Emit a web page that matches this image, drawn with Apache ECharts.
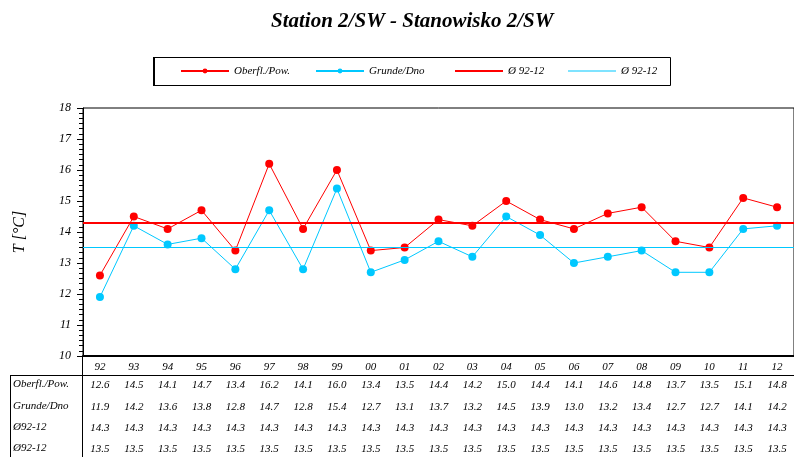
<!DOCTYPE html>
<html>
<head>
<meta charset="utf-8">
<script src="https://cdn.jsdelivr.net/npm/echarts@6/dist/echarts.min.js"></script>
<style>
  html, body { margin: 0; padding: 0; background: #fff; }
  #main { width: 794px; height: 457px; }
</style>
</head>
<body>
<div id="main"></div>
<script>
// dane
var years = ['92','93','94','95','96','97','98','99','00','01','02','03','04','05','06','07','08','09','10','11','12'];
var surface = [12.6, 14.5, 14.1, 14.7, 13.4, 16.2, 14.1, 16.0, 13.4, 13.5, 14.4, 14.2, 15.0, 14.4, 14.1, 14.6, 14.8, 13.7, 13.5, 15.1, 14.8];
var bottom = [11.9, 14.2, 13.6, 13.8, 12.8, 14.7, 12.8, 15.4, 12.7, 13.1, 13.7, 13.2, 14.5, 13.9, 13.0, 13.2, 13.4, 12.7, 12.7, 14.1, 14.2];
var avgSurface = 14.3;
var avgBottom = 13.5;
var rowNames = ['Oberfl./Pow.', 'Grunde/Dno', 'Ø92-12', 'Ø92-12'];

var RED = '#ff0000';
var CYAN = '#00c8ff';
var FONT = 'Liberation Serif';

var myChart = echarts.init(document.getElementById('main'));

function fmt(arr) {
    return arr.map(function (v) { return v.toFixed(1); });
}
function fill(v) {
    return years.map(function () { return v.toFixed(1); });
}

// wiersze tabeli jako osie kategorii
var tableRows = [fmt(surface), fmt(bottom), fill(avgSurface), fill(avgBottom)];
var rowOffsets = [18, 40, 61, 82];
var labelStyle = { color: '#000', fontFamily: FONT, fontStyle: 'italic', fontSize: 11, margin: 6 };

var xAxes = [{
    type: 'category',
    data: years,
    gridIndex: 0,
    position: 'bottom',
    axisLine: { lineStyle: { color: '#000', width: 2 } },
    axisTick: { show: false },
    axisLabel: labelStyle
}];
tableRows.forEach(function (row, i) {
    xAxes.push({
        type: 'category',
        data: row,
        gridIndex: 0,
        position: 'bottom',
        offset: rowOffsets[i],
        axisLine: { show: false },
        axisTick: { show: false },
        axisLabel: labelStyle
    });
});

// legenda - cztery osobne, zeby ustawic pozycje jak w oryginale
var legendPos = [180, 315, 455, 568];
var legendNames = ['Oberfl./Pow.', 'Grunde/Dno', 'Ø 92-12', 'Ø 92-12 '];
var legendIcons = [null, null, 'rect', 'rect'];
var legendHeights = [6, 6, 2, 1];
var legends = legendNames.map(function (n, i) {
    var l = {
        data: [n],
        left: legendPos[i],
        top: 65,
        itemWidth: 48,
        itemHeight: legendHeights[i],
        itemGap: 0,
        padding: 0,
        selectedMode: false,
        textStyle: { color: '#000', fontFamily: FONT, fontStyle: 'italic', fontSize: 11, lineHeight: 12 }
    };
    if (legendIcons[i]) l.icon = legendIcons[i];
    return l;
});

var graphics = [
    { type: 'rect', shape: { x: 153.5, y: 57.5, width: 517, height: 28 }, style: { fill: 'none', stroke: '#000', lineWidth: 1 } },
    { type: 'line', shape: { x1: 154, y1: 57, x2: 154, y2: 86 }, style: { stroke: '#000', lineWidth: 2 } },
    { type: 'line', shape: { x1: 10, y1: 375.5, x2: 794, y2: 375.5 }, style: { stroke: '#000', lineWidth: 1 } },
    { type: 'line', shape: { x1: 10.5, y1: 375, x2: 10.5, y2: 457 }, style: { stroke: '#000', lineWidth: 1 } },
    { type: 'line', shape: { x1: 82.5, y1: 356, x2: 82.5, y2: 457 }, style: { stroke: '#000', lineWidth: 1 } }
];
var rowY = [386, 408, 429, 450];
rowNames.forEach(function (n, i) {
    graphics.push({
        type: 'text', left: 13, top: rowY[i] - 7,
        style: { text: n, fill: '#000', font: 'italic 11px "' + FONT + '"' }
    });
});

myChart.setOption({
    backgroundColor: '#FFF',
    animation: false,
    title: {
        text: 'Station 2/SW - Stanowisko 2/SW',
        left: 266,
        top: 6,
        textStyle: { color: '#000', fontFamily: FONT, fontStyle: 'italic', fontWeight: 'bold', fontSize: 21 }
    },
    legend: legends,
    grid: {
        left: 83,
        top: 108,
        bottom: 101,
        width: 720,
        show: true,
        borderColor: '#000',
        borderWidth: 1,
        backgroundColor: 'transparent'
    },
    xAxis: xAxes,
    yAxis: {
        type: 'value',
        min: 10,
        max: 18,
        interval: 1,
        name: 'T [°C]',
        nameLocation: 'middle',
        nameRotate: 90,
        nameGap: 55,
        nameTextStyle: { color: '#000', fontFamily: FONT, fontStyle: 'italic', fontSize: 16 },
        axisLine: { show: true, lineStyle: { color: '#000', width: 1 } },
        axisTick: { show: true, inside: false, length: 6, lineStyle: { color: '#000' } },
        minorTick: { show: true, splitNumber: 6, length: 4, lineStyle: { color: '#000' } },
        splitLine: { show: false },
        axisLabel: { color: '#000', fontFamily: FONT, fontStyle: 'italic', fontSize: 12, margin: 12 }
    },
    graphic: graphics,
    series: [
        {
            name: 'Oberfl./Pow.',
            type: 'line',
            data: surface,
            symbol: 'circle',
            symbolSize: 8,
            itemStyle: { color: RED },
            lineStyle: { color: RED, width: 1 },
            z: 4
        },
        {
            name: 'Grunde/Dno',
            type: 'line',
            data: bottom,
            symbol: 'circle',
            symbolSize: 8,
            itemStyle: { color: CYAN },
            lineStyle: { color: CYAN, width: 1 },
            z: 3
        },
        {
            name: 'Ø 92-12',
            type: 'line',
            data: [],
            symbol: 'none',
            itemStyle: { color: RED },
            lineStyle: { color: RED, width: 2 },
            markLine: {
                silent: true,
                symbol: 'none',
                label: { show: false },
                lineStyle: { color: RED, width: 2, type: 'solid', opacity: 1 },
                data: [{ yAxis: avgSurface }]
            }
        },
        {
            name: 'Ø 92-12 ',
            type: 'line',
            data: [],
            symbol: 'none',
            itemStyle: { color: CYAN },
            lineStyle: { color: CYAN, width: 1 },
            markLine: {
                silent: true,
                symbol: 'none',
                label: { show: false },
                lineStyle: { color: CYAN, width: 1.2, type: 'solid', opacity: 1 },
                data: [{ yAxis: avgBottom }]
            }
        }
    ]
});
</script>
</body>
</html>
